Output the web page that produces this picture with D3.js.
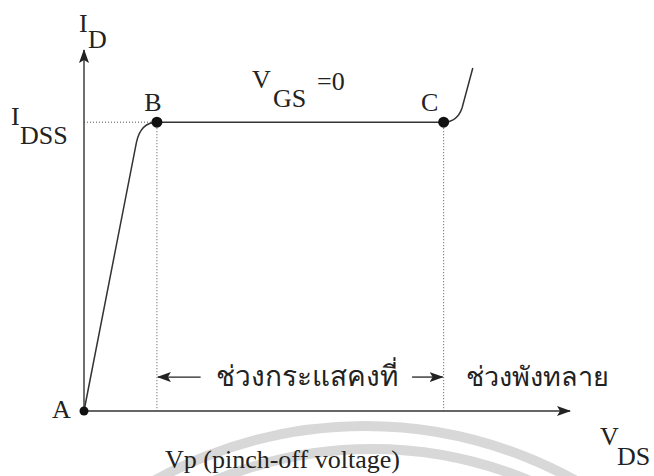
<html>
<head>
<meta charset='utf-8' />
<title>JFET output characteristic</title>
<script src="https://cdn.jsdelivr.net/npm/d3@7"></script>
<style>
	body { margin: 0; background: #fff; }
	text { font-family: "Liberation Serif", "Times New Roman", serif; fill: #222; }
	.thai { font-family: "Liberation Serif", "Noto Sans", "DejaVu Sans", sans-serif; }
</style>
</head>
<body>
<script>

	// drain current curve (V_DS, I_D) in arbitrary units; c = quadratic control for rounded knees
	var curve = [
		{v: 0,    i: 0},
		{v: 1.08, i: 7.45},
		{v: 1.5,  i: 8,   c: [1.17, 8]},
		{v: 7.4,  i: 8},
		{v: 7.78, i: 8.4, c: [7.68, 8]},
		{v: 8.0,  i: 9.5}
	];
	var points = [
		{name: "A", v: 0,   i: 0, r: 4.5},
		{name: "B", v: 1.5, i: 8, r: 5.5},
		{name: "C", v: 7.4, i: 8, r: 5.5}
	];
	var idss = 8;
	var vRange = [0, 10];   // arrow tips
	var iRange = [0, 10];
	var regionLow = "ช่วงกระแสคงที่";
	var regionHigh = "ช่วงพังทลาย";
	var vgsText = "=0";
	var vpText = "Vp (pinch-off voltage)";

	var width = 654, height = 476;
	var fs = 26;
	var svg = d3.select("body").append("svg")
		.attr("width", width)
		.attr("height", height);

	var x = d3.scaleLinear().domain(vRange).range([84, 570]);
	var y = d3.scaleLinear().domain(iRange).range([411, 50]);

	// faint watermark rings at the bottom
	var wm = svg.append("g").attr("fill", "none").attr("stroke", "#d8d8d8").attr("stroke-width", 10);
	wm.append("circle").attr("cx", 365).attr("cy", 859).attr("r", 433);
	wm.append("circle").attr("cx", 372).attr("cy", 857).attr("r", 408);

	var defs = svg.append("defs");
	defs.append("marker")
		.attr("id", "head")
		.attr("viewBox", "0 0 14 10")
		.attr("refX", 13).attr("refY", 5)
		.attr("markerWidth", 14).attr("markerHeight", 10)
		.attr("markerUnits", "userSpaceOnUse")
		.attr("orient", "auto")
		.append("path").attr("d", "M0,0 L14,5 L0,10 L3,5 Z").attr("fill", "#222");

	// axes
	svg.append("line")
		.attr("x1", x(0)).attr("y1", y(0)).attr("x2", x(0)).attr("y2", y(iRange[1]))
		.attr("stroke", "#333").attr("stroke-width", 1.4).attr("marker-end", "url(#head)");
	svg.append("line")
		.attr("x1", x(0)).attr("y1", y(0)).attr("x2", x(vRange[1])).attr("y2", y(0))
		.attr("stroke", "#333").attr("stroke-width", 1.4).attr("marker-end", "url(#head)");

	// dotted guides
	var dots = svg.append("g").attr("stroke", "#555").attr("stroke-width", 1).attr("stroke-dasharray", "1,2");
	dots.append("line").attr("x1", x(0)).attr("x2", x(points[1].v)).attr("y1", y(idss)).attr("y2", y(idss));
	points.slice(1).forEach(function(p) {
		dots.append("line").attr("x1", x(p.v)).attr("x2", x(p.v)).attr("y1", y(p.i)).attr("y2", y(0));
	});

	// characteristic
	var p = d3.path();
	curve.forEach(function(d, k) {
		if (k == 0) p.moveTo(x(d.v), y(d.i));
		else if (d.c) p.quadraticCurveTo(x(d.c[0]), y(d.c[1]), x(d.v), y(d.i));
		else p.lineTo(x(d.v), y(d.i));
	});
	svg.append("path").attr("d", p.toString())
		.attr("fill", "none").attr("stroke", "#333").attr("stroke-width", 1.5);

	svg.selectAll(".pt").data(points).enter()
		.append("circle").attr("class", "pt")
		.attr("cx", d => x(d.v)).attr("cy", d => y(d.i)).attr("r", d => d.r)
		.attr("fill", "#111");

	// point labels
	svg.append("text").attr("x", x(0) - 32).attr("y", y(0) + 7).attr("font-size", fs).text("A");
	svg.append("text").attr("x", x(points[1].v) - 4).attr("y", y(idss) - 11).attr("font-size", fs).attr("text-anchor", "middle").text("B");
	svg.append("text").attr("x", x(points[2].v) - 14).attr("y", y(idss) - 11).attr("font-size", fs).attr("text-anchor", "middle").text("C");

	// axis labels
	svg.append("text").attr("x", 79).attr("y", 32).attr("font-size", fs).text("I");
	svg.append("text").attr("x", 88).attr("y", 48).attr("font-size", fs).text("D");
	svg.append("text").attr("x", 11).attr("y", 125).attr("font-size", fs).text("I");
	svg.append("text").attr("x", 20).attr("y", 144).attr("font-size", fs).text("DSS");
	svg.append("text").attr("x", 600).attr("y", 445).attr("font-size", fs).text("V");
	svg.append("text").attr("x", 617).attr("y", 465).attr("font-size", fs).text("DS");

	svg.append("text").attr("x", 252).attr("y", 88).attr("font-size", fs).text("V");
	svg.append("text").attr("x", 273).attr("y", 107).attr("font-size", fs).text("GS");
	svg.append("text").attr("x", 317).attr("y", 90).attr("font-size", fs).text(vgsText);

	// region arrows + Thai labels
	var ay = y(0.94);
	svg.append("line").attr("x1", x(2.4)).attr("x2", x(points[1].v) + 1).attr("y1", ay).attr("y2", ay)
		.attr("stroke", "#222").attr("stroke-width", 1.3).attr("marker-end", "url(#head)");
	svg.append("line").attr("x1", x(6.75)).attr("x2", x(points[2].v) - 1).attr("y1", ay).attr("y2", ay)
		.attr("stroke", "#222").attr("stroke-width", 1.3).attr("marker-end", "url(#head)");
	svg.append("text").attr("class", "thai").attr("x", 307).attr("y", 386).attr("font-size", 28)
		.attr("text-anchor", "middle").text(regionLow);
	svg.append("text").attr("class", "thai").attr("x", 537).attr("y", 386).attr("font-size", 27)
		.attr("text-anchor", "middle").text(regionHigh);

	svg.append("text").attr("x", 165).attr("y", 468).attr("font-size", fs).text(vpText);

</script>
</body>
</html>
